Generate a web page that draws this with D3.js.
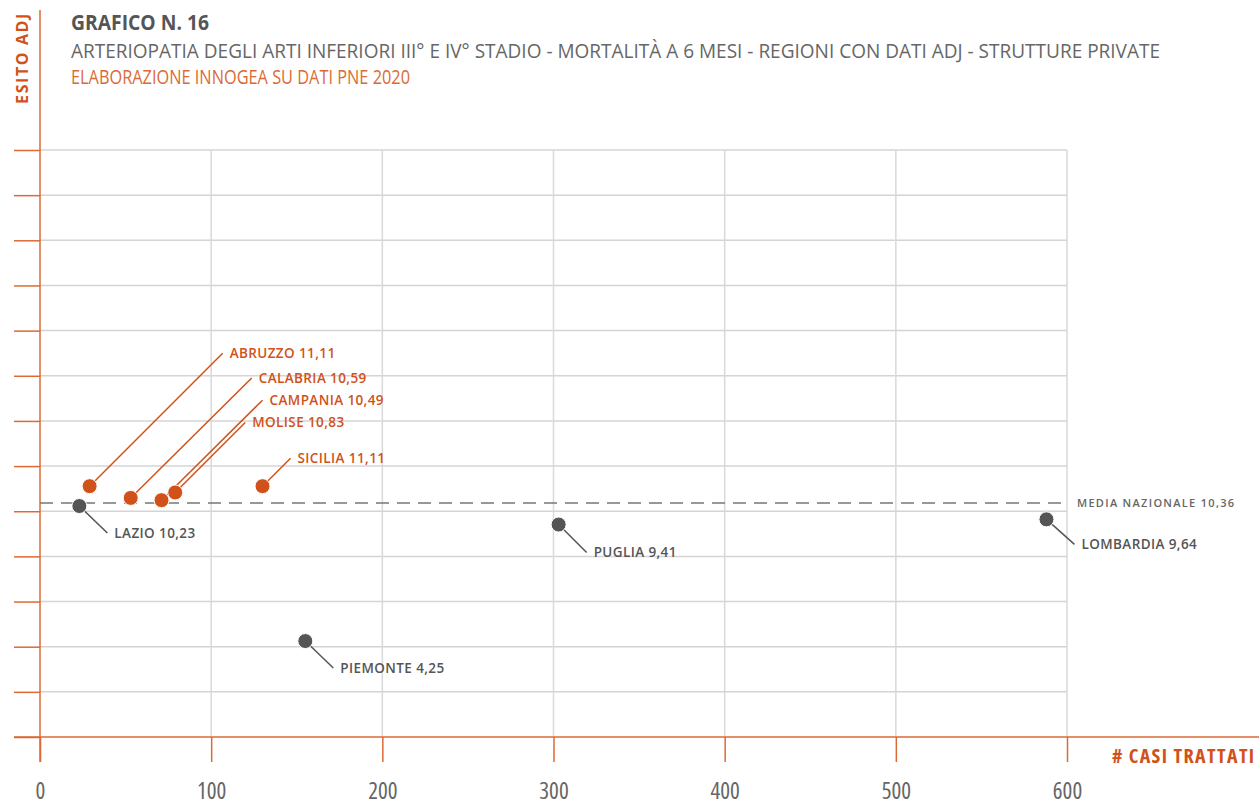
<!DOCTYPE html>
<html>
<head>
<meta charset="utf-8">
<script src="https://cdn.jsdelivr.net/npm/d3@7"></script>
<style>
  html, body { margin: 0; padding: 0; background: #fff; }
  svg { display: block; }
  text { font-family: "Open Sans", "Liberation Sans", sans-serif; }
</style>
</head>
<body>
<svg id="chart" width="1259" height="805"></svg>
<script>
// ---- data ----
const regions = ["ABRUZZO", "CALABRIA", "CAMPANIA", "MOLISE", "SICILIA", "LAZIO", "PIEMONTE", "PUGLIA", "LOMBARDIA"];
const casiTrattati = [29, 53, 71, 79, 130, 23, 155, 303, 588];
const esitoAdj = [11.11, 10.59, 10.49, 10.83, 11.11, 10.23, 4.25, 9.41, 9.64];
const mediaNazionale = 10.36;
const xTicks = [0, 100, 200, 300, 400, 500, 600];
const yTicks = [0, 2, 4, 6, 8, 10, 12, 14, 16, 18, 20, 22, 24, 26];

// ---- text ----
const titleText = "GRAFICO N. 16";
const subtitleText = "ARTERIOPATIA DEGLI ARTI INFERIORI III° E IV° STADIO - MORTALITÀ A 6 MESI - REGIONI CON DATI ADJ - STRUTTURE PRIVATE";
const sourceText = "ELABORAZIONE INNOGEA SU DATI PNE 2020";
const yLabel = "ESITO ADJ";
const xLabel = "# CASI TRATTATI";
const mediaLabel = "MEDIA NAZIONALE";

// ---- layout (label leader offsets, px) ----
const leader = {
  ABRUZZO: [133, -133], CALABRIA: [121, -120], CAMPANIA: [101, -100], MOLISE: [70, -70],
  SICILIA: [28, -28], LAZIO: [28, 27], PIEMONTE: [28, 27], PUGLIA: [28, 28], LOMBARDIA: [28, 25]
};

const ORANGE = "#d0521a";
const AXIS = "#db6a35";
const GRAY = "#555555";
const fmt = v => d3.format(".2f")(v).replace(".", ",");

const svg = d3.select("#chart");
const x = d3.scaleLinear().domain([0, 600]).range([40, 1067]);
const y = d3.scaleLinear().domain([0, 26]).range([737, 150]);

// titles
svg.append("text").attr("x", 71).attr("y", 30).attr("fill", "#555").attr("font-weight", 700)
  .attr("font-size", 21).attr("textLength", 138).attr("lengthAdjust", "spacingAndGlyphs").text(titleText);
svg.append("text").attr("x", 71).attr("y", 58).attr("fill", "#666").attr("font-weight", 400)
  .attr("font-size", 19.5).attr("textLength", 1089).attr("lengthAdjust", "spacingAndGlyphs").text(subtitleText);
svg.append("text").attr("x", 71).attr("y", 84).attr("fill", AXIS).attr("font-weight", 400)
  .attr("font-size", 19.5).attr("textLength", 339).attr("lengthAdjust", "spacingAndGlyphs").text(sourceText);

// grid
const grid = svg.append("g");
grid.selectAll(".hg").data(yTicks.filter(d => d > 0)).join("line")
  .attr("x1", x(0)).attr("x2", x(600)).attr("y1", d => y(d)).attr("y2", d => y(d))
  .attr("stroke", "#d4d4d4").attr("stroke-width", 1.5);
grid.selectAll(".vg").data(xTicks.filter(d => d > 0)).join("line")
  .attr("x1", d => x(d)).attr("x2", d => x(d)).attr("y1", y(26)).attr("y2", y(0))
  .attr("stroke", "#d9d9d9").attr("stroke-width", 1.5);

// y axis ticks
const yAxis = svg.append("g").attr("transform", `translate(${x(0)},0)`)
  .call(d3.axisLeft(y).tickValues(yTicks).tickSize(26).tickFormat(""));
yAxis.select(".domain").remove();
yAxis.selectAll("line").attr("stroke", AXIS).attr("stroke-width", 1.5);

// x axis
const xAxis = svg.append("g").attr("transform", `translate(0,${y(0)})`)
  .call(d3.axisBottom(x).tickValues(xTicks).tickSize(25).tickPadding(21).tickFormat(d3.format("d")));
xAxis.select(".domain").remove();
xAxis.selectAll("line").attr("stroke", AXIS).attr("stroke-width", 1.5);
xAxis.selectAll("text").attr("fill", "#666").attr("font-size", 23).attr("font-family", "'Open Sans', sans-serif")
  .style("font-stretch", "75%");

// axis lines
svg.append("line").attr("x1", x(0)).attr("x2", x(0)).attr("y1", 10).attr("y2", 762)
  .attr("stroke", AXIS).attr("stroke-width", 1.5);
svg.append("line").attr("x1", 14).attr("x2", 1259).attr("y1", y(0)).attr("y2", y(0))
  .attr("stroke", AXIS).attr("stroke-width", 1.5);

// axis titles
svg.append("text").attr("transform", "translate(28,58) rotate(-90)").attr("text-anchor", "middle")
  .attr("fill", ORANGE).attr("font-weight", 700).attr("font-size", 16).attr("letter-spacing", 1.6).text(yLabel);
svg.append("text").attr("x", 1112).attr("y", 763)
  .attr("fill", ORANGE).attr("font-weight", 700).attr("font-size", 20).style("font-stretch", "75%")
  .attr("letter-spacing", 1.4).text(xLabel);

// media line
svg.append("line").attr("x1", x(0)).attr("x2", x(600)).attr("y1", y(mediaNazionale)).attr("y2", y(mediaNazionale))
  .attr("stroke", "#777").attr("stroke-width", 1.5).attr("stroke-dasharray", "13,8");
svg.append("text").attr("x", 1077).attr("y", y(mediaNazionale)).attr("dy", "0.35em")
  .attr("fill", "#666").attr("font-weight", 600).attr("font-size", 11).attr("letter-spacing", 1.3)
  .text(mediaLabel + " " + fmt(mediaNazionale));

// points
const pts = regions.map((r, i) => ({ name: r, cx: x(casiTrattati[i]), cy: y(esitoAdj[i]), v: esitoAdj[i] }));
const colorOf = d => d.v > mediaNazionale ? ORANGE : GRAY;

svg.append("g").selectAll("line").data(pts).join("line")
  .attr("x1", d => d.cx).attr("y1", d => d.cy)
  .attr("x2", d => d.cx + leader[d.name][0]).attr("y2", d => d.cy + leader[d.name][1])
  .attr("stroke", colorOf).attr("stroke-width", 1.5);

svg.append("g").selectAll("circle").data(pts).join("circle")
  .attr("cx", d => d.cx).attr("cy", d => d.cy).attr("r", 7.5)
  .attr("fill", colorOf).attr("stroke", "#fff").attr("stroke-width", 1);

svg.append("g").selectAll("text").data(pts).join("text")
  .attr("x", d => d.cx + leader[d.name][0] + 7).attr("y", d => d.cy + leader[d.name][1]).attr("dy", "0.35em")
  .attr("fill", colorOf).attr("font-weight", 600).attr("font-size", 13.5).attr("letter-spacing", 0.4)
  .text(d => d.name + " " + fmt(d.v));
</script>
</body>
</html>
